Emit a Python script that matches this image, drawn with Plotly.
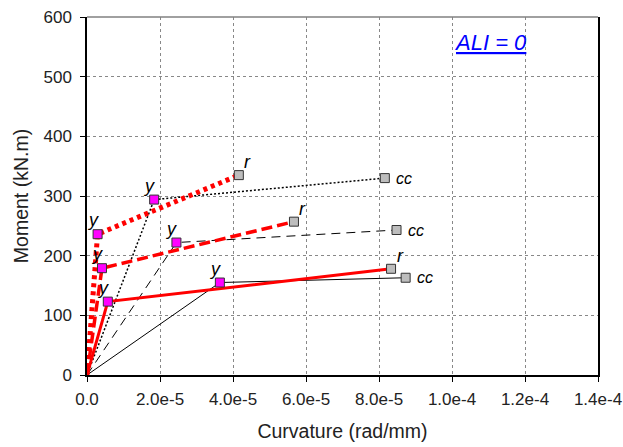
import plotly.graph_objects as go

# ---- data (curvature rad/mm, moment kN.m) ----
solid_sec_x = [0.0, 5.7e-6, 8.33e-5]
solid_sec_y = [0, 123, 178]
solid_oth_x = [0.0, 3.64e-5, 8.73e-5]
solid_oth_y = [0, 155, 163]

dash_sec_x = [0.0, 4.1e-6, 5.67e-5]
dash_sec_y = [0, 179, 257]
dash_oth_x = [0.0, 2.45e-5, 8.48e-5]
dash_oth_y = [0, 222, 243]

dot_sec_x = [0.0, 2.9e-6, 4.16e-5]
dot_sec_y = [0, 236, 335]
dot_oth_x = [0.0, 1.84e-5, 8.16e-5]
dot_oth_y = [0, 294, 330]

x_tickvals = [0, 2e-5, 4e-5, 6e-5, 8e-5, 1e-4, 1.2e-4, 1.4e-4]
x_ticktext = ["0.0", "2.0e-5", "4.0e-5", "6.0e-5", "8.0e-5", "1.0e-4", "1.2e-4", "1.4e-4"]
y_tickvals = [0, 100, 200, 300, 400, 500, 600]

FONT = "Arial, Liberation Sans, sans-serif"
fig = go.Figure()

black_series = [(solid_oth_x, solid_oth_y, "solid", 1),
                (dash_oth_x, dash_oth_y, "9px,6px", 1),
                (dot_oth_x, dot_oth_y, "2px,2px", 1.5)]
red_series = [(solid_sec_x, solid_sec_y, "solid", 3),
              (dash_sec_x, dash_sec_y, "11px,5px", 3.5),
              (dot_sec_x, dot_sec_y, "4px,4px", 5)]

for xs, ys, dash, w in black_series:
    fig.add_trace(go.Scatter(x=xs, y=ys, mode="lines",
                             line=dict(color="black", width=w, dash=dash),
                             showlegend=False, hoverinfo="skip"))
for xs, ys, dash, w in red_series:
    fig.add_trace(go.Scatter(x=xs, y=ys, mode="lines",
                             line=dict(color="#ff0000", width=w, dash=dash),
                             showlegend=False, hoverinfo="skip"))

all_series = [(solid_sec_x, solid_sec_y, "r"), (dash_sec_x, dash_sec_y, "r"), (dot_sec_x, dot_sec_y, "r"),
              (solid_oth_x, solid_oth_y, "cc"), (dash_oth_x, dash_oth_y, "cc"), (dot_oth_x, dot_oth_y, "cc")]

yx = [s[0][1] for s in all_series]
yy = [s[1][1] for s in all_series]
ex = [s[0][2] for s in all_series]
ey = [s[1][2] for s in all_series]

fig.add_trace(go.Scatter(x=yx, y=yy, mode="markers",
                         marker=dict(symbol="square", size=9, color="#ff00ff",
                                     line=dict(color="#333333", width=1)),
                         showlegend=False, hoverinfo="skip"))
fig.add_trace(go.Scatter(x=ex, y=ey, mode="markers",
                         marker=dict(symbol="square", size=9, color="#bdbdbd",
                                     line=dict(color="#333333", width=1)),
                         showlegend=False, hoverinfo="skip"))

anns = []
for xs, ys, lab in all_series:
    anns.append(dict(x=xs[1], y=ys[1], text="<i>y</i>", showarrow=False,
                     xshift=-5, yshift=14, font=dict(family=FONT, size=18, color="black")))
    if lab == "r":
        anns.append(dict(x=xs[2], y=ys[2], text="<i>r</i>", showarrow=False,
                         xshift=9, yshift=13, font=dict(family=FONT, size=18, color="black")))
    else:
        anns.append(dict(x=xs[2], y=ys[2], text="<i>cc</i>", showarrow=False,
                         xanchor="left", xshift=9, yshift=0,
                         font=dict(family=FONT, size=16, color="black")))

anns.append(dict(xref="paper", yref="paper", x=0.789, y=0.93, xanchor="center", yanchor="middle",
                 text='<span style="text-decoration:underline"><i>ALI = 0</i></span>',
                 showarrow=False, font=dict(family=FONT, size=22, color="#0000ff")))

fig.update_layout(
    width=623, height=447,
    margin=dict(l=87, r=25, t=17, b=72, autoexpand=False),
    paper_bgcolor="white", plot_bgcolor="white",
    font=dict(family=FONT, size=17, color="#222222"),
    annotations=anns,
    shapes=[dict(type="line", xref="paper", yref="paper", x0=0, x1=1, y0=1, y1=1,
                 line=dict(color="#808080", width=1.5))],
)
fig.update_xaxes(range=[0, 1.4e-4], tickvals=x_tickvals, ticktext=x_ticktext,
                 automargin=False,
                 showgrid=True, gridcolor="#888888", griddash="dot", gridwidth=1,
                 showline=True, linecolor="black", linewidth=1.5,
                 ticks="outside", ticklen=5, tickcolor="black", ticklabelstandoff=3,
                 zeroline=False, tickfont=dict(size=17),
                 title=dict(text="Curvature (rad/mm)", font=dict(size=19.5, color="#222222"), standoff=16))
fig.update_yaxes(range=[0, 600], tickvals=y_tickvals,
                 automargin=False,
                 showgrid=True, gridcolor="#888888", griddash="dot", gridwidth=1,
                 showline=True, linecolor="black", linewidth=1.5, mirror=True,
                 ticks="outside", ticklen=5, tickcolor="black", ticklabelstandoff=5,
                 zeroline=False, tickfont=dict(size=17),
                 title=dict(text="Moment (kN.m)", font=dict(size=19.5, color="#222222"), standoff=10))

fig.write_html("out.html")
